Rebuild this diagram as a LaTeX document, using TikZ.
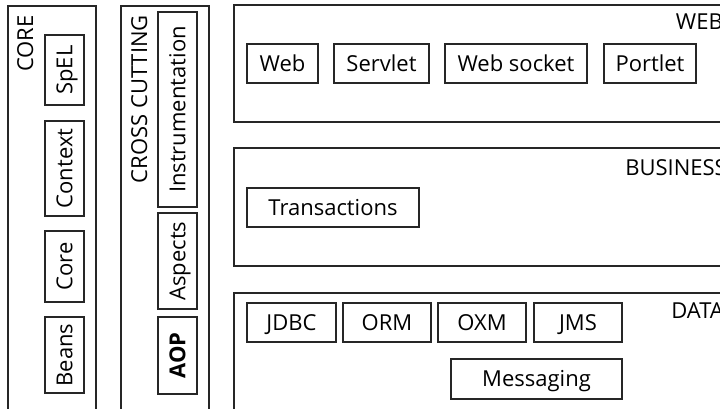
\documentclass[tikz,border=0pt]{standalone}
\usepackage{fontspec}
\setmainfont{Open Sans}
\begin{document}
\begin{tikzpicture}[x=1pt,y=-1pt,
  txt/.style={font=\fontsize{22}{26}\selectfont},
  box/.style={txt, draw=black!85, line width=1.1pt, inner sep=0pt, minimum height=39pt, text height=15.7pt, text depth=0pt},
  vbox/.style={box, rotate=90},
  layer/.style={draw=black!85, line width=1.2pt},
  lbl/.style={txt, inner sep=0pt}]
\clip (0,0) rectangle (720,408);
\fill[white] (0,0) rectangle (720,408);
% layers
\draw[layer] (8,6) rectangle (96,420);
\draw[layer] (121,6) rectangle (209,420);
\draw[layer] (234,5) rectangle (740,122);
\draw[layer] (234,148) rectangle (740,266);
\draw[layer] (234,293) rectangle (740,420);
% labels
\node[lbl, rotate=90, anchor=base east] (corelbl) at (33,15) {CORE};
\node[lbl, rotate=90, anchor=base east] (crosslbl) at (147,15) {CROSS CUTTING};
\node[lbl, anchor=base east] (weblbl) at (723,29) {WEB};
\node[lbl, anchor=base east] (buslbl) at (727,175) {BUSINESS};
\node[lbl, anchor=base east] (datalbl) at (724,318) {DATA};
% core
\node[vbox, minimum width=70pt] (spel) at (64.5,70) {SpEL};
\node[vbox, minimum width=95pt] (context) at (64.5,168.5) {Context};
\node[vbox, minimum width=71pt] (core) at (64.5,266.5) {Core};
\node[vbox, minimum width=76pt] (beans) at (64.5,355) {Beans};
% cross cutting
\node[vbox, minimum width=195pt] (instr) at (177.5,109.5) {Instrumentation};
\node[vbox, minimum width=96pt] (aspects) at (177.5,261) {Aspects};
\node[vbox, minimum width=77pt, line width=1.8pt, font=\fontsize{22}{26}\selectfont\bfseries] (aop) at (177.5,355.5) {AOP};
% web
\node[box, minimum width=71pt] (web) at (282.5,63.5) {Web};
\node[box, minimum width=95pt] (servlet) at (381.5,63.5) {Servlet};
\node[box, minimum width=142pt] (websocket) at (516,63.5) {Web socket};
\node[box, minimum width=92pt] (portlet) at (650,63.5) {Portlet};
% business
\node[box, minimum width=172pt] (trans) at (333,207.5) {Transactions};
% data
\node[box, minimum width=89pt] (jdbc) at (291.5,322.5) {JDBC};
\node[box, minimum width=88pt] (orm) at (387,322.5) {ORM};
\node[box, minimum width=88pt] (oxm) at (482,322.5) {OXM};
\node[box, minimum width=88pt] (jms) at (578,322.5) {JMS};
\node[box, minimum width=171pt, minimum height=40pt] (msg) at (536.5,379) {Messaging};
\end{tikzpicture}
\end{document}
